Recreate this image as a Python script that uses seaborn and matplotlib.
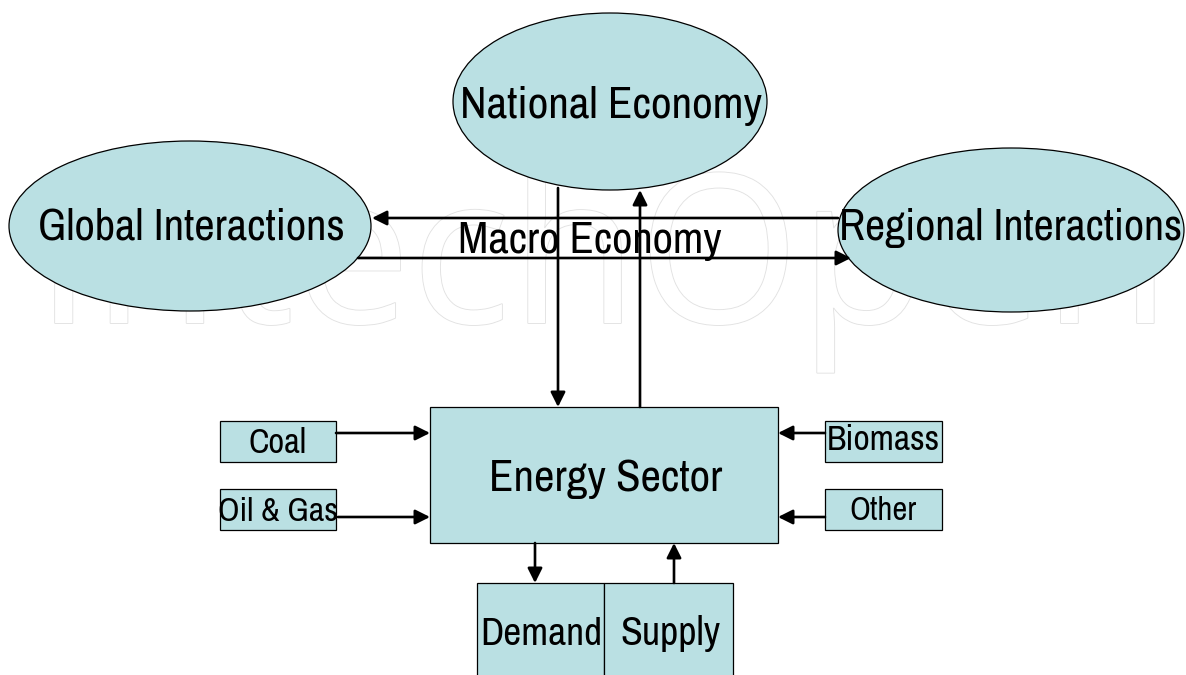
import matplotlib
matplotlib.use("Agg")
import matplotlib.pyplot as plt
import matplotlib.patheffects as pe
from matplotlib.patches import Ellipse, Rectangle
import seaborn as sns

sns.set_theme(style="white")
FONT = "Archivo Narrow"
plt.rcParams["font.family"] = [FONT, "DejaVu Sans"]

# ---- content ----
ellipse_labels = ["National Economy", "Global Interactions", "Regional Interactions"]
box_labels = ["Energy Sector", "Coal", "Oil & Gas", "Biomass", "Other", "Demand", "Supply"]
center_label = "Macro Economy"
watermark = "IntechOpen"

# ---- layout (pixel coordinates, y downward) ----
W, H = 1186, 675
FILL = "#bae0e3"
ell_geom = [(610, 101.5, 314, 177), (190, 226, 362, 170), (1011, 230, 346, 164)]
ell_text = [(611, 118, 302), (191, 240, 307), (1011, 240, 343)]
box_geom = [(430, 407, 348, 136), (220, 421, 116, 41), (220, 489, 116, 41),
            (825, 421, 117, 41), (825, 489, 117, 41), (477, 583, 127, 100),
            (604, 583, 129, 100)]
box_text = [(606, 491, 233), (278, 453, 58), (278, 521, 120), (883, 450, 113),
            (883, 520, 67), (541, 645, 122), (670, 645, 100)]
center_text = (590, 253, 264)
arrows = [((838, 218), (372, 218)), ((358, 258), (851, 258)),
          ((558, 188), (558, 407)), ((640, 407), (640, 190)),
          ((336, 433), (430, 433)), ((338, 517), (430, 517)),
          ((825, 433), (778, 433)), ((825, 517), (778, 517)),
          ((535, 543), (535, 583)), ((674, 583), (674, 543))]

fig = plt.figure(figsize=(W / 100, H / 100), dpi=100)
ax = fig.add_axes([0, 0, 1, 1])
ax.set_xlim(0, W)
ax.set_ylim(H, 0)
ax.axis("off")
renderer = fig.canvas.get_renderer()


def fit_text(x, y, s, width, **kw):
    t = ax.text(x, y, s, fontsize=20, ha="center", va="baseline", **kw)
    bb = t.get_window_extent(renderer)
    t.set_fontsize(20 * width / bb.width)
    return t


# watermark
wm = fit_text(603, 323, watermark, 1134, color="white", zorder=0,
              family=["Open Sans", "DejaVu Sans"])
wm.set_path_effects([pe.withStroke(linewidth=1.3, foreground="#e2e2e2")])

for (cx, cy, w, h), (tx, ty, tw), lab in zip(ell_geom, ell_text, ellipse_labels):
    ax.add_patch(Ellipse((cx, cy), w, h, facecolor=FILL, edgecolor="black",
                         lw=0.9, zorder=2))
    fit_text(tx, ty, lab, tw, color="black", zorder=5)

for (x, y, w, h), (tx, ty, tw), lab in zip(box_geom, box_text, box_labels):
    ax.add_patch(Rectangle((x, y), w, h, facecolor=FILL, edgecolor="black",
                           lw=0.9, zorder=2))
    fit_text(tx, ty, lab, tw, color="black", zorder=5)

fit_text(center_text[0], center_text[1], center_label, center_text[2],
         color="black", zorder=5)

for start, end in arrows:
    ax.annotate("", xy=end, xytext=start, zorder=4,
                arrowprops=dict(arrowstyle="-|>", lw=1.9, color="black",
                                mutation_scale=22, shrinkA=0, shrinkB=0))

fig.savefig("out.png", dpi=100)
